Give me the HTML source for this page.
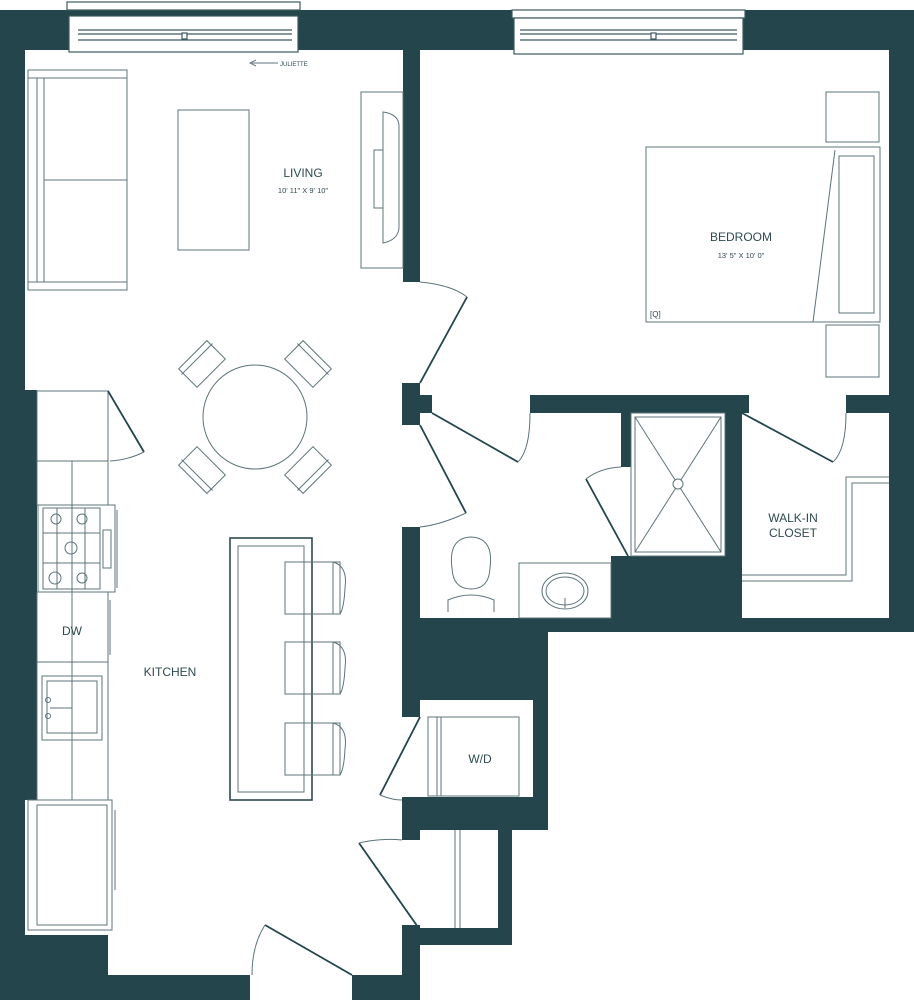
<!DOCTYPE html>
<html><head><meta charset="utf-8"><style>
html,body{margin:0;padding:0;background:#fff;}
svg{display:block;}
text{font-family:"Liberation Sans",sans-serif;fill:#2e4a50;}
</style></head><body>
<svg width="914" height="1000" viewBox="0 0 914 1000" xmlns="http://www.w3.org/2000/svg">
<g fill="#23454b">
<!-- top wall -->
<rect x="0" y="10" width="914" height="40"/>
<!-- left wall -->
<rect x="0" y="10" width="25" height="990"/>
<rect x="0" y="390" width="37" height="410"/>
<rect x="0" y="935" width="108" height="65"/>
<!-- bottom -->
<rect x="0" y="975" width="250" height="25"/>
<rect x="352" y="975" width="68" height="25"/>
<!-- right wall -->
<rect x="889" y="10" width="25" height="622"/>
<!-- living/bed partition -->
<rect x="403" y="50" width="17" height="232"/>
<rect x="402" y="383" width="18" height="42"/>
<rect x="402" y="395" width="30" height="18"/>
<!-- bedroom bottom -->
<rect x="530" y="395" width="219" height="18"/>
<rect x="846" y="395" width="68" height="18"/>
<!-- shower left stub -->
<rect x="621" y="413" width="10" height="54"/>
<rect x="725" y="413" width="17" height="219"/>
<rect x="611" y="556" width="131" height="76"/>
<!-- bath bottom -->
<rect x="402" y="618" width="512" height="14"/>
<!-- bath left wall -->
<rect x="402" y="527" width="18" height="190"/>
<rect x="402" y="618" width="146" height="82"/>
<rect x="533" y="618" width="15" height="212"/>
<rect x="402" y="797" width="146" height="33"/>
<rect x="402" y="797" width="18" height="43"/>
<!-- linen -->
<rect x="498" y="828" width="14" height="117"/>
<rect x="402" y="928" width="110" height="17"/>
<rect x="402" y="925" width="18" height="75"/>
</g>
<!-- windows -->
<g fill="#fff" stroke="#3d5a60" stroke-width="1.2">
<rect x="67" y="2" width="233" height="8"/>
<rect x="69" y="16" width="229" height="36"/>
<line x1="78" y1="30" x2="292" y2="30"/><line x1="78" y1="34" x2="292" y2="34"/><line x1="78" y1="40" x2="292" y2="40"/>
<rect x="182" y="33" width="5" height="6"/>
<rect x="512" y="10" width="233" height="8"/>
<rect x="514" y="18" width="229" height="36"/>
<line x1="520" y1="30" x2="737" y2="30"/><line x1="520" y1="34" x2="737" y2="34"/><line x1="520" y1="40" x2="737" y2="40"/>
<rect x="651" y="33" width="5" height="6"/>
</g>
<g fill="none" stroke="#5d7479" stroke-width="1">
<!-- juliette arrow -->
<line x1="252" y1="63" x2="278" y2="63"/><path d="M256 60 L250 63 L256 66"/>
<!-- sofa -->
<rect x="28" y="70" width="99" height="220"/>
<line x1="28" y1="78" x2="127" y2="78"/><line x1="28" y1="282" x2="127" y2="282"/>
<line x1="37" y1="78" x2="37" y2="282"/><line x1="44" y1="78" x2="44" y2="282"/>
<line x1="44" y1="180" x2="127" y2="180"/>
<!-- coffee table -->
<rect x="178" y="110" width="71" height="140"/>
<!-- tv console -->
<rect x="361" y="92" width="42" height="176"/>
<path d="M383 112 L383 243 Q398 240 399 228 L399 125 Q398 114 383 112Z"/>
<rect x="374" y="150" width="9" height="58"/>
<!-- bed -->
<rect x="646" y="147" width="234" height="175"/>
<rect x="839" y="156" width="35" height="157"/>
<line x1="835" y1="150" x2="813" y2="322"/>
<rect x="826" y="92" width="53" height="50"/>
<rect x="826" y="325" width="53" height="52"/>
<!-- dining table -->
<circle cx="255" cy="417" r="52"/>
<g transform="translate(255,417)">
<g transform="rotate(-45)"><rect x="-20" y="-88" width="40" height="26"/><line x1="-22" y1="-82" x2="22" y2="-82"/></g>
<g transform="rotate(45)"><rect x="-20" y="-88" width="40" height="26"/><line x1="-22" y1="-82" x2="22" y2="-82"/></g>
<g transform="rotate(135)"><rect x="-20" y="-88" width="40" height="26"/><line x1="-22" y1="-82" x2="22" y2="-82"/></g>
<g transform="rotate(-135)"><rect x="-20" y="-88" width="40" height="26"/><line x1="-22" y1="-82" x2="22" y2="-82"/></g>
</g>
<!-- kitchen counters -->
<rect x="37" y="391" width="71" height="70"/>
<rect x="37" y="461" width="71" height="44"/>
<line x1="72" y1="461" x2="72" y2="800"/>
<rect x="37" y="592" width="71" height="70"/>
<rect x="37" y="662" width="71" height="138"/>
<rect x="42" y="676" width="60" height="64"/>
<rect x="47" y="681" width="50" height="52"/>
<circle cx="48" cy="700" r="2.5"/><circle cx="48" cy="716" r="2.5"/><line x1="50" y1="708" x2="72" y2="708"/>
<line x1="110" y1="600" x2="110" y2="655"/>
<!-- range -->
<rect x="38" y="505" width="77" height="87"/>
<rect x="43" y="508" width="57" height="81"/>
<rect x="103" y="530" width="8" height="38"/>
<line x1="117" y1="510" x2="117" y2="588"/>
<circle cx="56" cy="519" r="5"/><circle cx="82" cy="519" r="5"/><circle cx="71" cy="548" r="6"/><circle cx="55" cy="578" r="6"/><circle cx="82" cy="578" r="5"/>
<line x1="43" y1="533" x2="100" y2="533"/><line x1="43" y1="563" x2="100" y2="563"/>
<line x1="57" y1="508" x2="57" y2="589"/><line x1="85" y1="508" x2="85" y2="589"/>
<!-- fridge -->
<rect x="28" y="800" width="84" height="130"/>
<rect x="37" y="805" width="70" height="120"/>
<line x1="115" y1="810" x2="115" y2="890"/>
<!-- island -->
<rect x="230" y="538" width="82" height="262" stroke="#2e4a50" stroke-width="1.6"/>
<rect x="238" y="546" width="66" height="246"/>
<g id="stool">
<rect x="285" y="562" width="55" height="52"/>
<line x1="333" y1="562" x2="333" y2="614"/>
<path d="M333 562 Q348 566 345 588 Q344 608 340 614"/>
</g>
<use href="#stool" y="80"/>
<use href="#stool" y="161"/>
<!-- shower -->
<rect x="631" y="413" width="94" height="143"/>
<rect x="635" y="417" width="86" height="135"/>
<line x1="635" y1="417" x2="721" y2="552"/><line x1="721" y1="417" x2="635" y2="552"/>
<circle cx="678" cy="484" r="5" fill="#fff"/>
<!-- toilet -->
<path d="M452 568 Q448 538 471 537 Q494 538 490 568 Q489 589 471 589 Q453 589 452 568Z"/>
<path d="M448 612 L448 600 Q471 590 494 600 L494 612"/>
<!-- vanity -->
<rect x="519" y="563" width="92" height="55"/>
<ellipse cx="565" cy="591" rx="23" ry="18"/><ellipse cx="565" cy="591" rx="19" ry="14"/>
<line x1="565" y1="598" x2="565" y2="608"/>
<!-- closet shelf -->
<path d="M742 575 L846 575 L846 477 L889 477"/>
<path d="M742 581 L852 581 L852 483 L889 483"/>
<!-- W/D -->
<rect x="428" y="717" width="91" height="79"/>
<rect x="437" y="717" width="4" height="79"/>
<!-- linen shelf -->
<line x1="455" y1="830" x2="455" y2="928"/><line x1="460" y1="830" x2="460" y2="928"/>
</g>
<!-- doors -->
<g fill="none" stroke="#23454b" stroke-width="1.8">
<line x1="420" y1="383" x2="467" y2="297"/>
<line x1="432" y1="413" x2="518" y2="462"/>
<line x1="420" y1="425" x2="466" y2="513"/>
<line x1="742" y1="413" x2="833" y2="462"/>
<line x1="628" y1="556" x2="586" y2="479"/>
<line x1="108" y1="391" x2="144" y2="452"/>
<line x1="420" y1="717" x2="380" y2="795"/>
<line x1="420" y1="930" x2="359" y2="843"/>
<line x1="352" y1="975" x2="265" y2="925"/>
</g>
<g fill="none" stroke="#5d7479" stroke-width="1">
<path d="M420 282 Q452 285 467 297"/>
<path d="M530 413 Q530 450 518 462"/>
<path d="M466 513 Q440 525 420 527"/>
<path d="M846 413 Q846 450 833 462"/>
<path d="M586 479 Q600 468 621 467"/>
<path d="M144 452 Q128 460 110 461"/>
<path d="M380 795 Q392 800 402 800"/>
<path d="M359 843 Q380 838 402 840"/>
<path d="M265 925 Q252 945 252 975"/>
</g>
<text x="280" y="66" font-size="6">JULIETTE</text>
<text x="303" y="177" font-size="12" text-anchor="middle">LIVING</text>
<text x="303" y="193" font-size="7.5" text-anchor="middle">10' 11" X 9' 10"</text>
<text x="741" y="241" font-size="12" text-anchor="middle">BEDROOM</text>
<text x="741" y="258" font-size="7.5" text-anchor="middle">13' 5" X 10' 0"</text>
<text x="650" y="317" font-size="8">[Q]</text>
<text x="793" y="522" font-size="12" text-anchor="middle">WALK-IN</text>
<text x="793" y="537" font-size="12" text-anchor="middle">CLOSET</text>
<text x="72" y="635" font-size="12" text-anchor="middle">DW</text>
<text x="170" y="676" font-size="12" text-anchor="middle">KITCHEN</text>
<text x="480" y="763" font-size="12" text-anchor="middle">W/D</text>
</svg>
</body></html>
